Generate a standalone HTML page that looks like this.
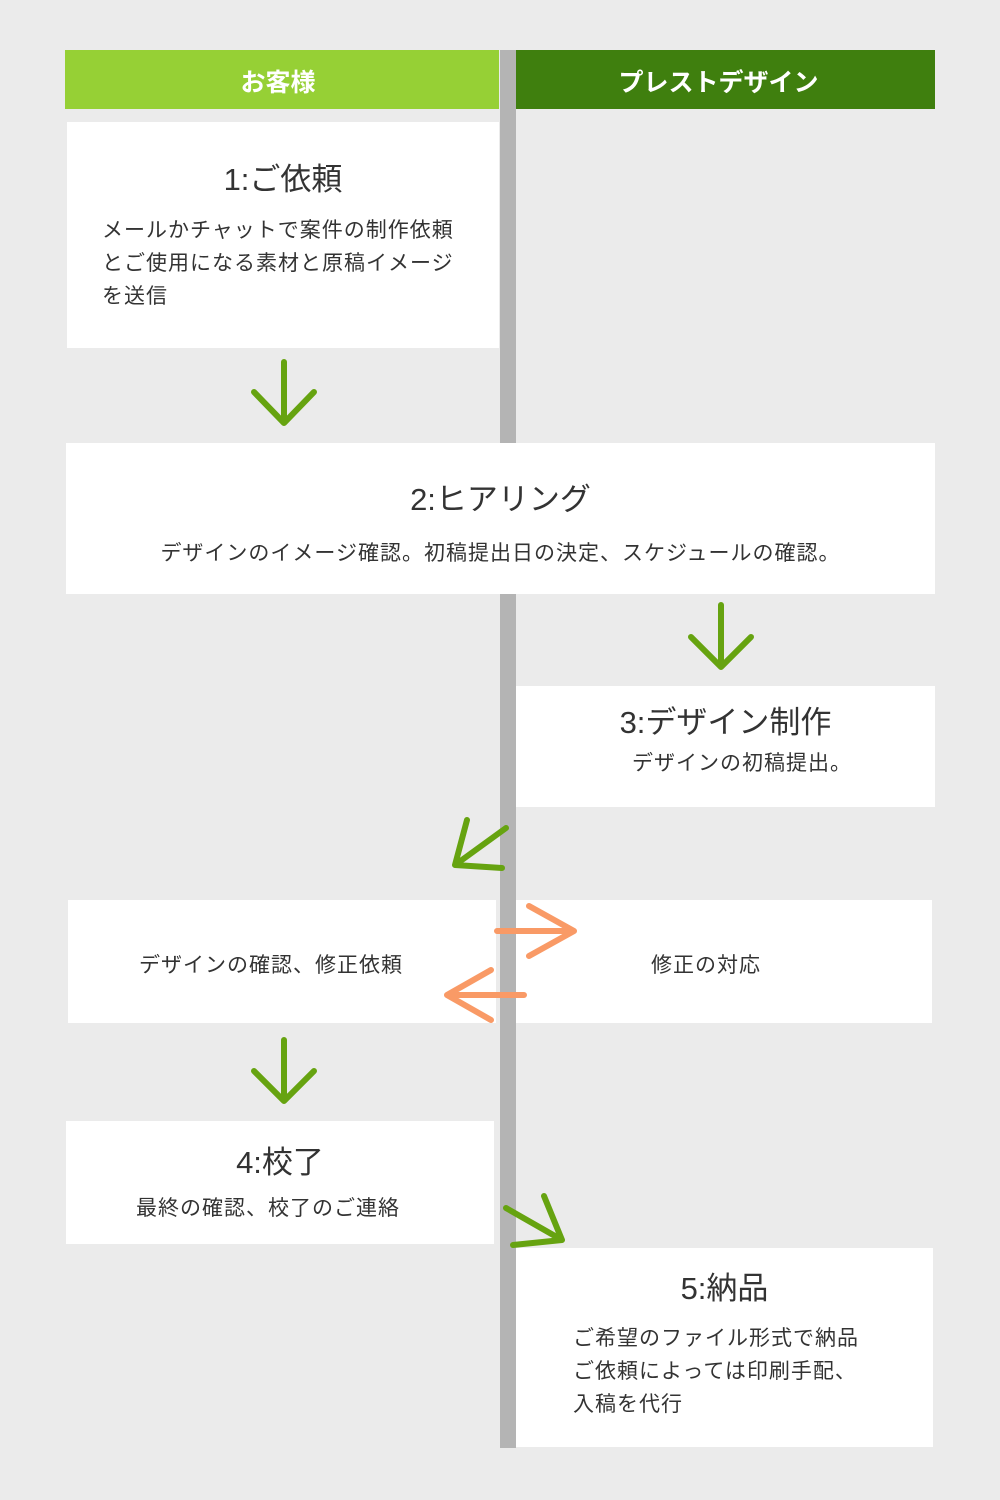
<!DOCTYPE html>
<html><head><meta charset="utf-8"><style>
body{margin:0;width:1000px;height:1500px;background:#ebebeb;position:relative;overflow:hidden;font-family:"Liberation Sans","Noto Sans CJK JP",sans-serif;color:#333}
.a{position:absolute}
.box{position:absolute;background:#fff}
.t{position:absolute;left:0;right:0;text-align:center;font-size:31px}
.p{position:absolute;font-size:21px;line-height:33px;letter-spacing:1px;white-space:nowrap}
</style></head><body>
<div class="a" style="left:500px;top:50px;width:16px;height:1398px;background:#b4b4b4"></div>
<div class="a" style="left:65px;top:50px;width:434px;height:59px;background:#96d035;color:#fff;font-weight:bold;font-size:25px;text-align:center;line-height:66px"><span style="position:relative;left:-4px">お客様</span></div>
<div class="a" style="left:516px;top:50px;width:419px;height:59px;background:#3f7f0e;color:#fff;font-weight:bold;font-size:25px;text-align:center;line-height:66px"><span style="position:relative;left:-7px">プレストデザイン</span></div>

<div class="box" style="left:67px;top:122px;width:432px;height:226px">
<div class="t" style="top:32px">1:ご依頼</div>
<div class="p" style="left:35px;top:92px">メールかチャットで案件の制作依頼<br>とご使用になる素材と原稿イメージ<br>を送信</div></div>

<div class="box" style="left:66px;top:443px;width:869px;height:151px">
<div class="t" style="top:31px">2:ヒアリング</div>
<div class="p" style="left:0;right:0;top:94px;text-align:center">デザインのイメージ確認。初稿提出日の決定、スケジュールの確認。</div></div>

<div class="box" style="left:516px;top:686px;width:419px;height:121px">
<div class="t" style="top:11px">3:デザイン制作</div>
<div class="p" style="left:116px;top:61px">デザインの初稿提出。</div></div>

<div class="box" style="left:68px;top:900px;width:428px;height:123px">
<div class="p" style="left:0;right:22px;top:49px;text-align:center">デザインの確認、修正依頼</div></div>
<div class="box" style="left:516px;top:900px;width:416px;height:123px">
<div class="p" style="left:0;right:36px;top:49px;text-align:center">修正の対応</div></div>

<div class="box" style="left:66px;top:1121px;width:428px;height:123px">
<div class="t" style="top:16px">4:校了</div>
<div class="p" style="left:0;right:24px;top:71px;text-align:center">最終の確認、校了のご連絡</div></div>

<div class="box" style="left:516px;top:1248px;width:417px;height:199px">
<div class="t" style="top:15px;left:0;right:0">5:納品</div>
<div class="p" style="left:57px;top:74px">ご希望のファイル形式で納品<br>ご依頼によっては印刷手配、<br>入稿を代行</div></div>

<svg class="a" style="left:0;top:0" width="1000" height="1500" fill="none" stroke-linecap="round" stroke-linejoin="round">
<g stroke="#66a310" stroke-width="6">
<path d="M284 362V423M254 392L284 423L314 392"/>
<path d="M721 605V667M691 637L721 667L751 637"/>
<path d="M284 1040V1101M254 1071L284 1101L314 1071"/>
<path d="M506 828L455 865M467 820L455 865L502 868"/>
<path d="M506 1208L562 1240M544 1196L562 1240L513 1245"/>
</g>
<g stroke="#f99a66" stroke-width="6">
<path d="M497 931H574M529 906L574 931L529 956"/>
<path d="M524 995H447M491 970L447 995L491 1020"/>
</g>
</svg>
</body></html>
